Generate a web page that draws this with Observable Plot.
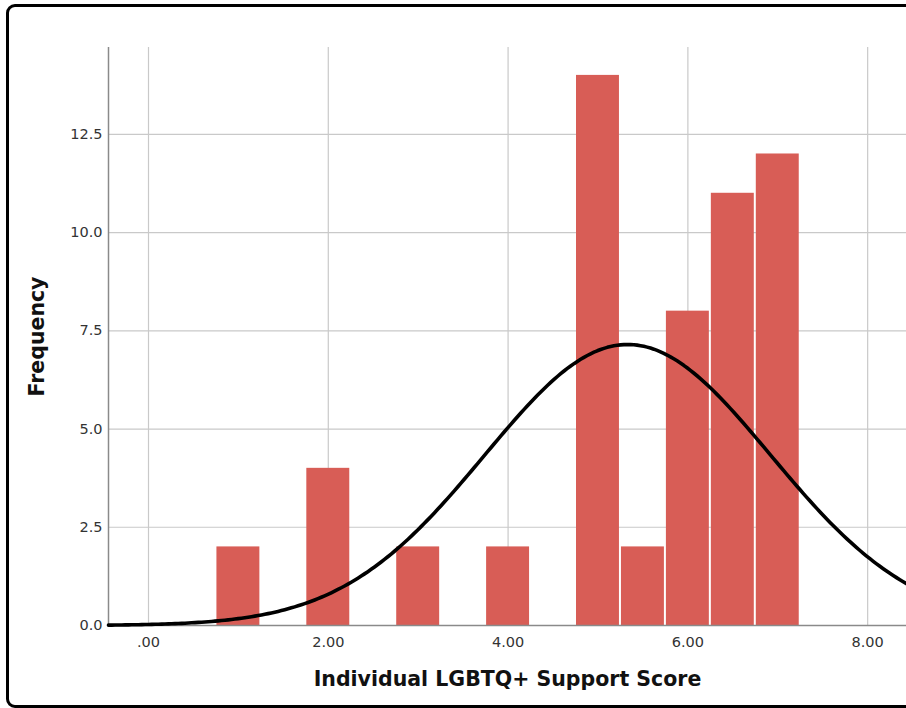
<!DOCTYPE html>
<html>
<head>
<meta charset="utf-8">
<script src="https://cdn.jsdelivr.net/npm/d3@7"></script>
<script src="https://cdn.jsdelivr.net/npm/@observablehq/plot@0.6"></script>
<style>
  html, body { margin: 0; padding: 0; background: #fff; overflow: hidden; }
  #chart { position: absolute; left: 0; top: 0; }
  #frame { position: absolute; left: 6px; top: 4px; width: 960px; height: 704px; box-sizing: border-box;
           border: 3px solid #000; border-radius: 9px; pointer-events: none; }
</style>
</head>
<body>
<div id="chart"></div>
<div id="frame"></div>
<script>
// Histogram bins (bin centers, width 0.5) and frequencies
const binCenters = [1.0, 2.0, 3.0, 4.0, 5.0, 5.5, 6.0, 6.5, 7.0];
const frequencies = [2, 4, 2, 2, 14, 2, 8, 11, 12];
const binWidth = 0.5;

// Fitted normal curve parameters (as shown by the overlay)
const curveMean = 5.33;
const curveSD = 1.59;
const curveN = 57;

// Axis ticks
const xTicks = [0, 2, 4, 6, 8];
const xTickLabels = [".00", "2.00", "4.00", "6.00", "8.00"];
const yTicks = [0, 2.5, 5, 7.5, 10, 12.5];
const yTickLabels = ["0.0", "2.5", "5.0", "7.5", "10.0", "12.5"];

const xTitle = "Individual LGBTQ+ Support Score";
const yTitle = "Frequency";

const xDomain = [-0.445, 8.432];
const yDomain = [0, 14.71];

const bins = binCenters.map((c, i) => ({x1: c - binWidth / 2, x2: c + binWidth / 2, y: frequencies[i]}));

const curve = [];
const steps = 240;
for (let i = 0; i <= steps; i++) {
  const x = xDomain[0] + (xDomain[1] - xDomain[0]) * i / steps;
  const z = (x - curveMean) / curveSD;
  curve.push({x, y: curveN * binWidth * Math.exp(-0.5 * z * z) / (curveSD * Math.sqrt(2 * Math.PI))});
}

const chart = Plot.plot({
  width: 906,
  height: 708,
  marginLeft: 108,
  marginRight: 0,
  marginTop: 47,
  marginBottom: 83,
  style: {fontFamily: "'DejaVu Sans', sans-serif", fontSize: "14px", color: "#333", background: "#fff", overflow: "visible"},
  x: {domain: xDomain},
  y: {domain: yDomain},
  marks: [
    Plot.gridX(xTicks, {stroke: "#c9c9c9", strokeOpacity: 1, strokeWidth: 1.2}),
    Plot.gridY(yTicks, {stroke: "#c9c9c9", strokeOpacity: 1, strokeWidth: 1.2}),
    Plot.rectY(bins, {x1: "x1", x2: "x2", y: "y", fill: "#d85d56", insetLeft: 1, insetRight: 1}),
    Plot.ruleX([xDomain[0]], {stroke: "#8a8a8a", strokeWidth: 1.5}),
    Plot.ruleY([0], {stroke: "#8a8a8a", strokeWidth: 1.5}),
    Plot.line(curve, {x: "x", y: "y", stroke: "#000", strokeWidth: 3.6, curve: "linear"}),
    Plot.axisX(xTicks, {tickSize: 0, tickPadding: 11, fontSize: 14.5, fill: "#333",
      tickFormat: d => xTickLabels[xTicks.indexOf(d)], label: null}),
    Plot.axisY(yTicks, {tickSize: 0, tickPadding: 6, fontSize: 14.5, fill: "#333",
      tickFormat: d => yTickLabels[yTicks.indexOf(d)], label: null}),
    Plot.text([xTitle], {frameAnchor: "bottom", dy: 60, fontSize: 20.5, fontWeight: "bold", fill: "#111"}),
    Plot.text([yTitle], {frameAnchor: "left", textAnchor: "middle", dx: -71, rotate: -90, fontSize: 20.5, fontWeight: "bold", fill: "#111"})
  ]
});
document.getElementById("chart").appendChild(chart);
</script>
</body>
</html>
